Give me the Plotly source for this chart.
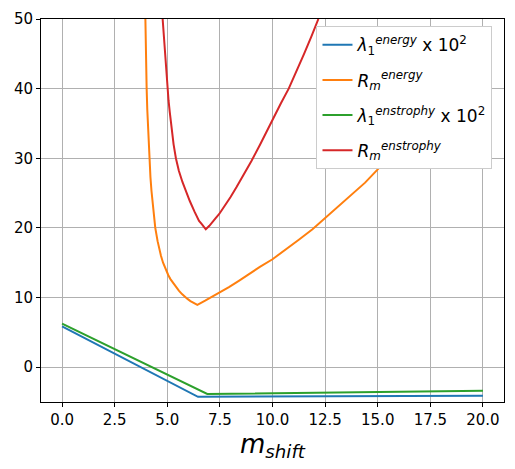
import plotly.graph_objects as go

# Data
lam_energy_x = [0.0, 6.46, 20.0]
lam_energy_y = [5.85, -4.25, -4.1]

lam_enstrophy_x = [0.0, 6.9, 20.0]
lam_enstrophy_y = [6.25, -3.85, -3.4]

rm_energy_x = [3.96, 3.97, 3.98, 4.0, 4.02, 4.05, 4.08, 4.11, 4.15, 4.2, 4.25, 4.3, 4.36,
               4.43, 4.54, 4.62, 4.7, 4.8, 4.94, 5.05, 5.15, 5.28, 5.41, 5.55, 5.7, 5.82,
               5.96, 6.1, 6.2, 6.32, 6.43, 6.8, 7.2, 7.55, 7.93, 8.4, 8.87, 9.4, 10.0,
               10.6, 11.25, 11.9, 12.5, 13.1, 13.75, 14.4, 15.0, 16.2, 17.5, 18.8, 20.0]
rm_energy_y = [50, 47.3, 45, 42.4, 40, 37.0, 34.8, 32.2, 30, 27.3, 25.3, 23.6, 21.8,
               20, 18.1, 16.95, 16.0, 15.0, 13.9, 13.2, 12.65, 12.05, 11.5, 11.0, 10.5, 10.15,
               9.8, 9.5, 9.3, 9.1, 8.95, 9.55, 10.2, 10.85, 11.5, 12.4, 13.4, 14.4, 15.5,
               16.8, 18.3, 19.8, 21.4, 23.0, 24.7, 26.5, 28.4, 32.5, 37.0, 41.8, 47.0]

rm_enstrophy_x = [4.78, 4.84, 4.9, 4.96, 5.01, 5.06, 5.12, 5.2, 5.3, 5.41, 5.55, 5.72,
                  5.9, 6.07, 6.3, 6.51, 6.65, 6.75, 6.83, 7.0, 7.15, 7.3, 7.46, 7.8, 8.0,
                  8.3, 8.72, 9.0, 9.4, 9.98, 10.4, 10.77, 11.1, 11.5, 11.85, 12.18]
rm_enstrophy_y = [50, 47.3, 45, 42.4, 40, 38.3, 36.6, 34.4, 32.0, 30.0, 28.2, 26.6,
                  25.1, 23.86, 22.3, 21.0, 20.5, 20.1, 19.8, 20.3, 20.9, 21.4, 21.96, 23.4, 24.4,
                  25.9, 28.1, 29.6, 31.9, 35.5, 37.9, 40.0, 42.2, 45.0, 47.5, 50.0]

x_ticks = [0, 2.5, 5, 7.5, 10, 12.5, 15, 17.5, 20]
x_tick_labels = ["0.0", "2.5", "5.0", "7.5", "10.0", "12.5", "15.0", "17.5", "20.0"]
y_ticks = [0, 10, 20, 30, 40, 50]

names = [
    "<i>λ</i><sub>1</sub><sup><i>energy</i></sup> x 10<sup>2</sup>",
    "<i>R</i><sub><i>m</i></sub><sup><i>energy</i></sup>",
    "<i>λ</i><sub>1</sub><sup><i>enstrophy</i></sup> x 10<sup>2</sup>",
    "<i>R</i><sub><i>m</i></sub><sup><i>enstrophy</i></sup>",
]
colors = ["#1f77b4", "#ff7f0e", "#2ca02c", "#d62728"]

fig = go.Figure()
series = [
    (lam_energy_x, lam_energy_y),
    (rm_energy_x, rm_energy_y),
    (lam_enstrophy_x, lam_enstrophy_y),
    (rm_enstrophy_x, rm_enstrophy_y),
]
for i, ((xs, ys), nm, c) in enumerate(zip(series, names, colors)):
    fig.add_trace(go.Scatter(x=xs, y=ys, mode="lines", name=nm,
                             legendgroup=f"g{i}",
                             line=dict(color=c, width=2)))

axis_common = dict(
    showline=True, linecolor="black", linewidth=1, mirror=True,
    ticks="outside", ticklen=4, tickcolor="black", tickwidth=1,
    showgrid=True, gridcolor="#b0b0b0", gridwidth=1, zeroline=False,
    tickfont=dict(size=15, color="black"),
)

fig.update_layout(
    width=515, height=469,
    margin=dict(l=41, r=10, t=17, b=67),
    paper_bgcolor="white", plot_bgcolor="white",
    font=dict(family="DejaVu Sans", color="black"),
    xaxis=dict(range=[-1, 21], tickvals=x_ticks, ticktext=x_tick_labels,
               title=dict(text="<i>m</i><sub><i>shift</i></sub>",
                          font=dict(size=26), standoff=6),
               **axis_common),
    yaxis=dict(range=[-5, 50], tickvals=y_ticks, **axis_common),
    legend=dict(x=0.595, y=0.981, xanchor="left", yanchor="top",
                bgcolor="white", bordercolor="#cccccc",
                borderwidth=1, font=dict(size=17, color="black"),
                tracegroupgap=10, itemwidth=30),
    showlegend=True,
)

fig.write_html("out.html")
